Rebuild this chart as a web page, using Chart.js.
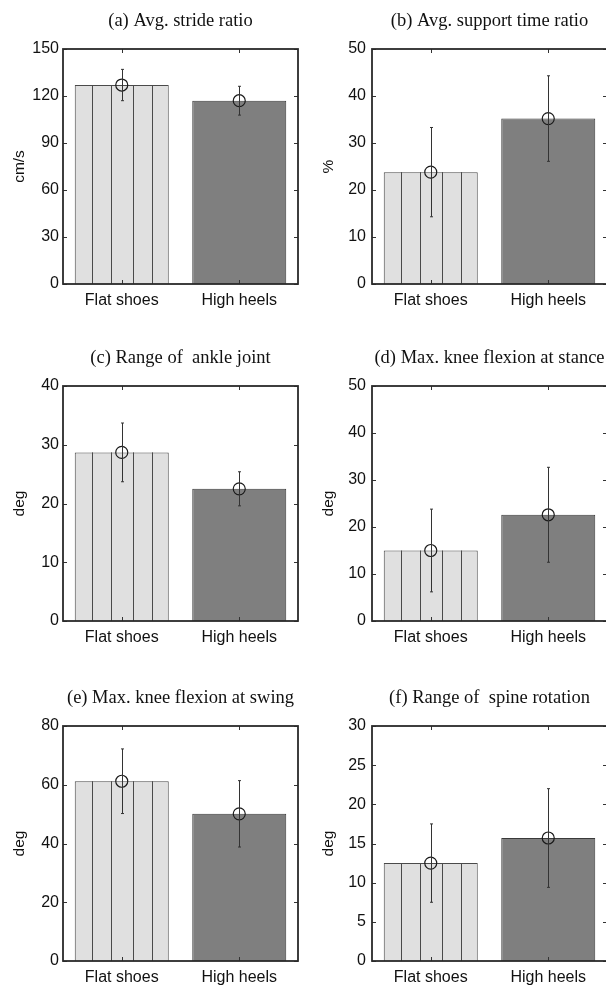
<!DOCTYPE html>
<html>
<head>
<meta charset="utf-8">
<script src="https://cdn.jsdelivr.net/npm/chart.js@4.4.0/dist/chart.umd.min.js"></script>
<style>
  html, body { margin: 0; padding: 0; background: #fff; }
  #wrap { position: relative; width: 606px; height: 988px; overflow: hidden; background: #fff; }
  .panel { position: absolute; }
</style>
</head>
<body>
<div id="wrap"></div>
<script>
// ---- data ----
const categories = ['Flat shoes', 'High heels'];
const panelTitles = [
  '(a) Avg. stride ratio',
  '(b) Avg. support time ratio',
  '(c) Range of  ankle joint',
  '(d) Max. knee flexion at stance',
  '(e) Max. knee flexion at swing',
  '(f) Range of  spine rotation'
];
const yTitles = ['cm/s', '%', 'deg', 'deg', 'deg', 'deg'];
const yMax  = [150, 50, 40, 50, 80, 30];
const yStep = [30, 10, 10, 10, 20, 5];
const flatMeans = [127, 23.8, 28.7, 15.0, 61.2, 12.5];
const flatSD    = [10, 9.5, 5.0, 8.8, 11.0, 5.0];
const heelMeans = [117, 35.2, 22.5, 22.6, 50.1, 15.7];
const heelSD    = [9.2, 9.1, 2.9, 10.1, 11.3, 6.3];

// ---- layout ----
const rowTop = [0, 337, 677];
const colLeft = [0, 303];
const colWidth = [303, 310];
const yAxisWidth = [63, 69];
const padRight = [5, 6];
const yTitlePad = [10, 16];
const yTickPad = [4, 6];
const PANEL_H = 320, XAXIS_H = 36;

const wrap = document.getElementById('wrap');

// vertical divider lines inside the flat-shoes bar
const stripePlugin = {
  id: 'stripes',
  afterDatasetsDraw(chart, args, opts) {
    const bar = chart.getDatasetMeta(0).data[0];
    if (!bar) return;
    const p = bar.getProps(['x', 'y', 'width', 'base'], true);
    const ctx = chart.ctx;
    ctx.save();
    ctx.strokeStyle = opts.color;
    ctx.lineWidth = 1;
    const left = p.x - p.width / 2;
    opts.fractions.forEach(f => {
      const x = Math.round(left + f * p.width) + 0.5;
      ctx.beginPath();
      ctx.moveTo(x, p.y);
      ctx.lineTo(x, p.base);
      ctx.stroke();
    });
    ctx.restore();
  }
};

// error bars from the sd arrays, through the chart's own scales
const errorBarPlugin = {
  id: 'errorBars',
  afterDatasetsDraw(chart, args, opts) {
    const xs = chart.scales.x, ys = chart.scales.y;
    const ctx = chart.ctx;
    ctx.save();
    ctx.strokeStyle = opts.color;
    ctx.lineWidth = 1;
    opts.means.forEach((m, i) => {
      const x = Math.round(xs.getPixelForValue(i)) + 0.5;
      const top = ys.getPixelForValue(m + opts.sd[i]);
      const bot = ys.getPixelForValue(m - opts.sd[i]);
      ctx.beginPath();
      ctx.moveTo(x, top); ctx.lineTo(x, bot);
      ctx.moveTo(x - 1.5, top); ctx.lineTo(x + 1.5, top);
      ctx.moveTo(x - 1.5, bot); ctx.lineTo(x + 1.5, bot);
      ctx.stroke();
    });
    ctx.restore();
  }
};

// MATLAB-like box with inward ticks
const boxPlugin = {
  id: 'box',
  afterDraw(chart) {
    const {ctx, chartArea: a} = chart;
    const xs = chart.scales.x, ys = chart.scales.y;
    ctx.save();
    ctx.strokeStyle = '#333';
    ctx.lineWidth = 1;
    const L = 4;
    ctx.beginPath();
    ys.ticks.forEach(t => {
      const y = Math.round(ys.getPixelForValue(t.value)) + 0.5;
      ctx.moveTo(a.left, y); ctx.lineTo(a.left + L, y);
      ctx.moveTo(a.right, y); ctx.lineTo(a.right - L, y);
    });
    xs.ticks.forEach((t, i) => {
      const x = Math.round(xs.getPixelForValue(i)) + 0.5;
      ctx.moveTo(x, a.top); ctx.lineTo(x, a.top + L);
      ctx.moveTo(x, a.bottom); ctx.lineTo(x, a.bottom - L);
    });
    ctx.stroke();
    ctx.lineWidth = 1.8;
    ctx.strokeStyle = '#2a2a2a';
    ctx.strokeRect(a.left, a.top, a.right - a.left, a.bottom - a.top);
    ctx.restore();
  }
};

panelTitles.forEach((title, k) => {
  const row = Math.floor(k / 2), col = k % 2;
  const div = document.createElement('div');
  div.className = 'panel';
  div.style.left = colLeft[col] + 'px';
  div.style.top = rowTop[row] + 'px';
  div.style.width = colWidth[col] + 'px';
  div.style.height = PANEL_H + 'px';
  const canvas = document.createElement('canvas');
  canvas.width = colWidth[col];
  canvas.height = PANEL_H;
  canvas.style.width = colWidth[col] + 'px';
  canvas.style.height = PANEL_H + 'px';
  div.appendChild(canvas);
  wrap.appendChild(div);

  const means = [flatMeans[k], heelMeans[k]];
  const sd = [flatSD[k], heelSD[k]];

  new Chart(canvas.getContext('2d'), {
    data: {
      labels: categories,
      datasets: [
        {
          type: 'bar',
          data: means,
          backgroundColor: ['#e0e0e0', '#7f7f7f'],
          borderColor: ['#4a4a4a', '#3a3a3a'],
          borderWidth: 1,
          barPercentage: 1,
          categoryPercentage: 0.8,
          order: 2
        },
        {
          type: 'line',
          data: means,
          showLine: false,
          pointStyle: 'circle',
          pointRadius: 6,
          pointBackgroundColor: 'rgba(0,0,0,0)',
          pointBorderColor: '#1a1a1a',
          pointBorderWidth: 1.2,
          order: 1
        }
      ]
    },
    options: {
      responsive: false,
      animation: false,
      devicePixelRatio: 1,
      layout: { autoPadding: false, padding: { left: 0, right: padRight[col], top: 0, bottom: 0 } },
      plugins: {
        legend: { display: false },
        tooltip: { enabled: false },
        title: {
          display: true,
          text: title,
          fullSize: false,
          color: '#111',
          font: { family: '"Liberation Serif", "Times New Roman", serif', size: 18.5, weight: 'normal', lineHeight: 1.2 },
          padding: { top: 10.5, bottom: 16.3 }
        },
        stripes: { fractions: [0.18, 0.385, 0.615, 0.82], color: '#4a4a4a' },
        errorBars: { means, sd, color: '#333' }
      },
      scales: {
        x: {
          type: 'category',
          offset: true,
          grid: { display: false, drawTicks: false },
          border: { display: false },
          ticks: { color: '#111', padding: 7, font: { family: '"Liberation Sans", Arial, sans-serif', size: 16 } },
          afterFit(s) { s.height = XAXIS_H; }
        },
        y: {
          min: 0,
          max: yMax[k],
          grid: { display: false, drawTicks: false },
          border: { display: false },
          ticks: { stepSize: yStep[k], color: '#111', padding: yTickPad[col], font: { family: '"Liberation Sans", Arial, sans-serif', size: 16 } },
          title: {
            display: true,
            text: yTitles[k],
            color: '#111',
            padding: { top: yTitlePad[col], bottom: 0 },
            font: { family: '"Liberation Sans", Arial, sans-serif', size: 15.5, lineHeight: 1.2 }
          },
          afterFit(s) { s.width = yAxisWidth[col]; }
        }
      }
    },
    plugins: [stripePlugin, errorBarPlugin, boxPlugin]
  });
});
</script>
</body>
</html>
